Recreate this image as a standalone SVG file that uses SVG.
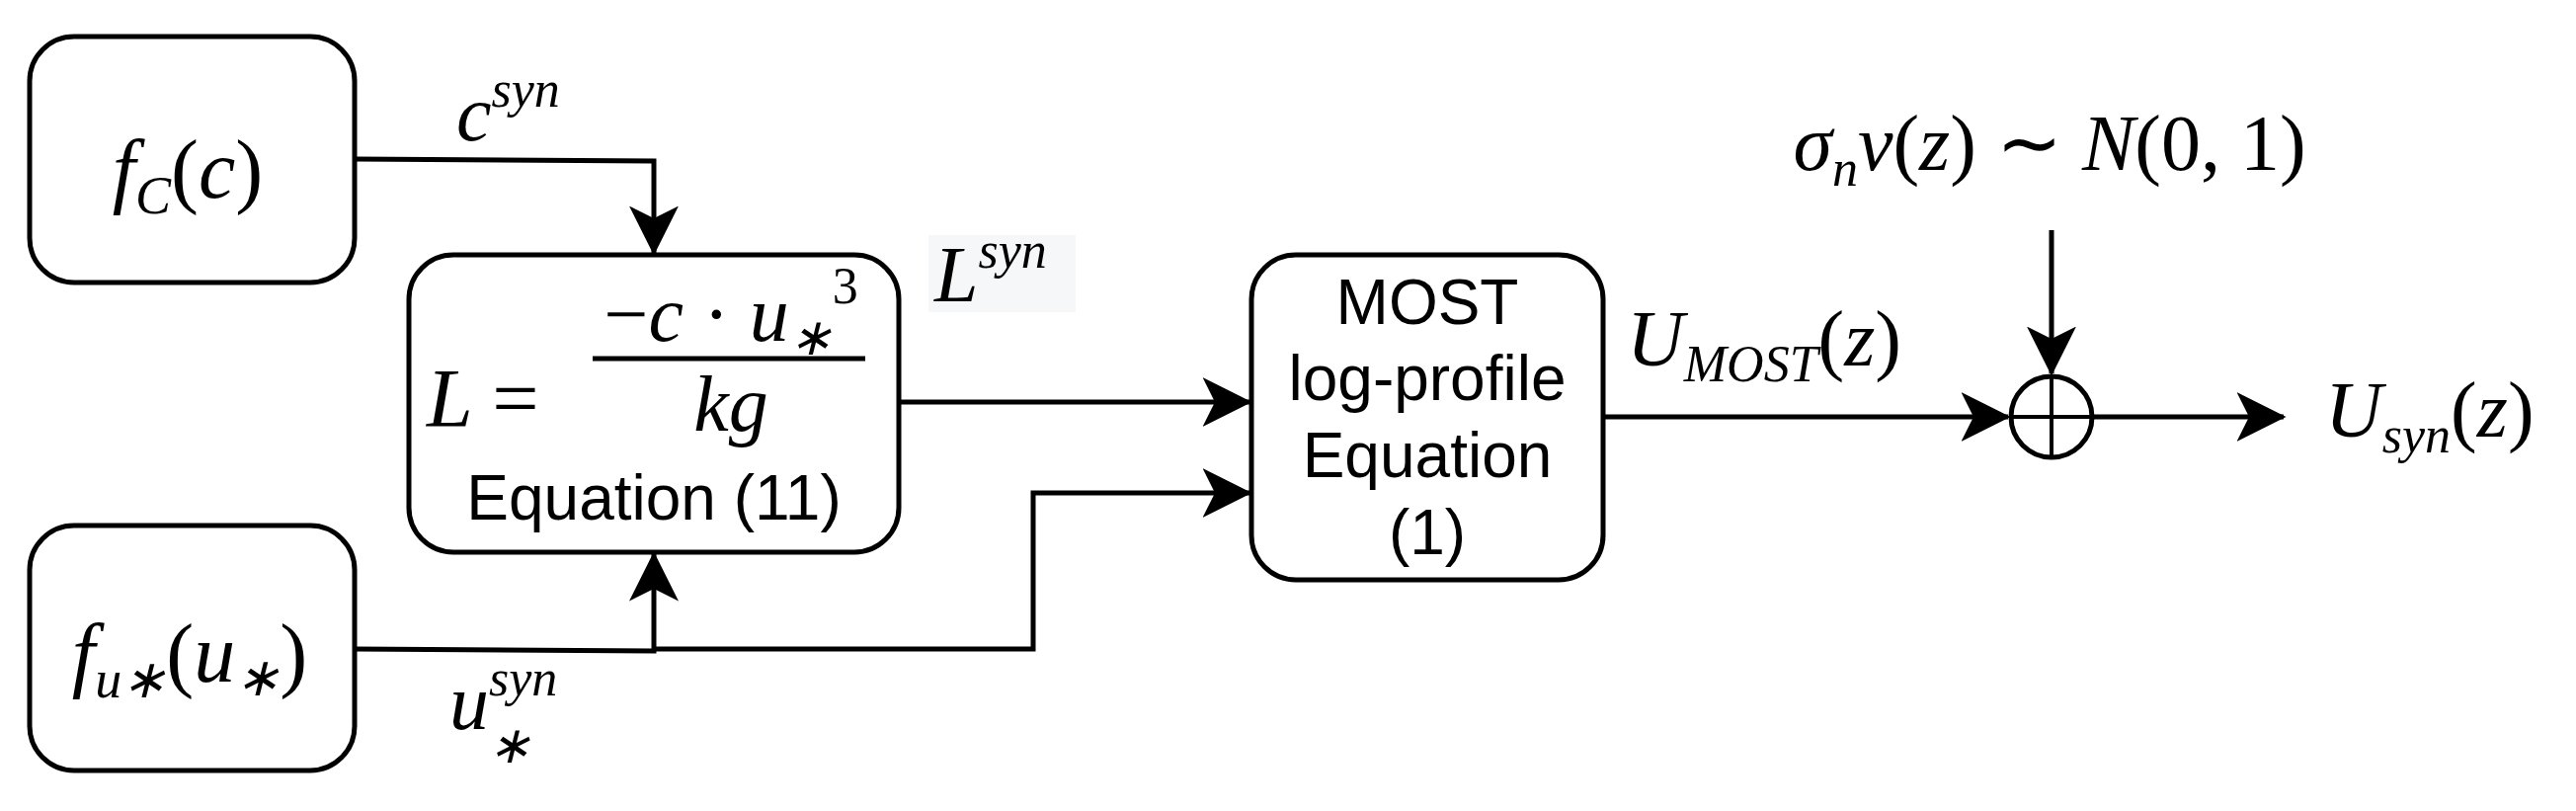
<svg xmlns="http://www.w3.org/2000/svg" width="2608" height="821" viewBox="0 0 2608 821">
<style>
.box{fill:#fff;stroke:#000;stroke-width:5}
.ln{fill:none;stroke:#000;stroke-width:5}
.m{font-family:"Liberation Serif",serif;font-style:italic;fill:#000}
.s{font-family:"Liberation Sans",Arial,sans-serif;fill:#000;text-anchor:middle;font-size:64px}
</style>
<defs>
<marker id="b" viewBox="0 0 20 20" refX="19" refY="10" markerWidth="50" markerHeight="50" markerUnits="userSpaceOnUse" orient="auto"><path d="M0,0 L20,10 L0,20 L5,10 Z" fill="#000"/></marker></defs>
<rect width="2608" height="821" fill="#fff"/>
<g id="connectors">
<path class="ln" d="M359,161 L662,163 L662,256" marker-end="url(#b)"/>
<path class="ln" d="M359,657 L662,659 L662,561" marker-end="url(#b)"/>
<path class="ln" d="M662,657 L1046,657 L1046,499 L1265,499" marker-end="url(#b)"/>
<path class="ln" d="M910,407 L1265,407" marker-end="url(#b)"/>
<path class="ln" d="M1623,422 L2033,422" marker-end="url(#b)"/>
<path class="ln" d="M2077,233 L2077,378" marker-end="url(#b)"/>
<path class="ln" d="M2119,422 L2312,422" marker-end="url(#b)"/>
</g>
<g id="fC"><rect class="box" x="30" y="37" width="329" height="249" rx="45"/>
<text class="m" x="190" y="200" font-size="84" text-anchor="middle">f<tspan font-size="54" dy="16">C</tspan><tspan font-style="normal" dy="-16">(</tspan>c<tspan font-style="normal">)</tspan></text></g>
<g id="fu"><rect class="box" x="30" y="532" width="329" height="248" rx="45"/>
<text class="m" x="192" y="690" font-size="84" text-anchor="middle">f<tspan font-size="54" dy="16">u∗</tspan><tspan font-style="normal" dy="-16">(</tspan>u<tspan font-size="54" dy="14">∗</tspan><tspan font-style="normal" dy="-14">)</tspan></text></g>
<g id="Lbox"><rect class="box" x="414" y="258" width="496" height="301" rx="45"/>
<text class="m" x="432" y="432" font-size="84">L <tspan font-style="normal">=</tspan></text>
<text class="m" x="740" y="345" font-size="80" text-anchor="middle"><tspan font-style="normal">−</tspan>c <tspan font-style="normal">·</tspan> u<tspan font-size="52" dy="14">∗</tspan><tspan font-style="normal" font-size="52" dy="-52">3</tspan></text>
<line x1="600" y1="363" x2="876" y2="363" stroke="#000" stroke-width="5"/>
<text class="m" x="740" y="436" font-size="80" text-anchor="middle">kg</text>
<text class="s" x="662" y="526">Equation (11)</text></g>
<g id="most"><rect class="box" x="1267" y="258" width="356" height="329" rx="45"/>
<text class="s" x="1445" y="328">MOST</text>
<text class="s" x="1445" y="405">log-profile</text>
<text class="s" x="1445" y="483">Equation</text>
<text class="s" x="1445" y="561">(1)</text></g>
<g id="sum"><circle cx="2077" cy="422" r="41" fill="#fff" stroke="#000" stroke-width="5"/>
<line x1="2036" y1="422" x2="2118" y2="422" stroke="#000" stroke-width="4"/><line x1="2077" y1="381" x2="2077" y2="463" stroke="#000" stroke-width="4"/></g>
<g id="labels">
<text class="m" x="462" y="142" font-size="80">c<tspan font-size="52" dy="-34">syn</tspan></text>
<rect x="940" y="238" width="149" height="78" fill="#f5f7f9"/>
<text class="m" x="946" y="305" font-size="80">L<tspan font-size="52" dy="-34">syn</tspan></text>
<text class="m" x="455" y="738" font-size="80">u<tspan font-size="52" dy="-34">syn</tspan></text>
<text class="m" x="494" y="772" font-size="52">∗</text>
<text class="m" x="1647" y="370" font-size="80">U<tspan font-size="52" dy="16">MOST</tspan><tspan font-style="normal" dy="-16">(</tspan>z<tspan font-style="normal">)</tspan></text>
<text class="m" x="2075" y="172" font-size="80" text-anchor="middle">σ<tspan font-size="52" dy="16">n</tspan><tspan dy="-16">ν</tspan><tspan font-style="normal">(</tspan>z<tspan font-style="normal">) ∼ </tspan>N<tspan font-style="normal">(0, 1)</tspan></text>
<text class="m" x="2354" y="442" font-size="80">U<tspan font-size="52" dy="16">syn</tspan><tspan font-style="normal" dy="-16">(</tspan>z<tspan font-style="normal">)</tspan></text>
</g>
</svg>
